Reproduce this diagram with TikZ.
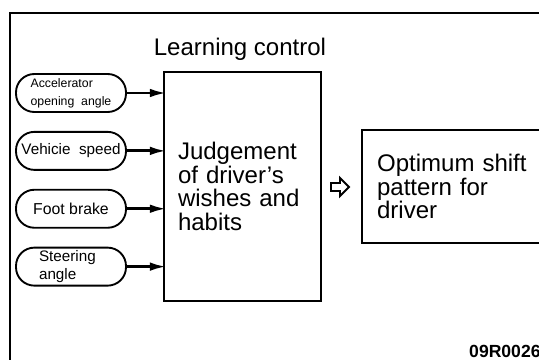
\documentclass[tikz,border=0pt]{standalone}
\usepackage{fontspec}
\setmainfont{Liberation Sans}
\usetikzlibrary{arrows.meta,positioning}

\begin{document}
\begin{tikzpicture}[x=0.3mm,y=-0.3mm,
  pill/.style={draw,line width=1.6pt,rounded corners=5.5mm,minimum width=33mm,minimum height=11.4mm,align=left,inner sep=1pt},
  box/.style={draw,line width=1.8pt,align=left,font=\fontsize{20.5}{20}\selectfont},
  feed/.style={line width=2.4pt,shorten >=-3pt,-{Latex[length=5mm,width=2.6mm]}}]
\useasboundingbox (0,0) rectangle (539,360);
\clip (0,0) rectangle (539,360);
\draw[line width=1.5pt] (10,400) -- (10,13) -- (580,13);
\node[box,minimum width=47.1mm,minimum height=68.7mm,text width=38.7mm] (judge) at (242.5,186.5) {Judgement\\of driver's\\wishes and\\habits};
\node[anchor=base,font=\fontsize{20.5}{20}\selectfont] (learn) at (240,55) {Learning control};
\node[box,right=11.7mm of judge,minimum width=60mm,minimum height=33.9mm,text width=51mm] (optimum) {Optimum shift\\pattern for\\driver};
\node[pill,font=\fontsize{10.5}{15.4}\selectfont] (accel) at (71,93) {Accelerator\\opening\ \ angle};
\node[pill,below=5.4mm of accel,font=\fontsize{13}{15.4}\selectfont] (speed) {Vehicie\ \ speed};
\node[pill,below=5.4mm of speed,font=\fontsize{13.5}{15.4}\selectfont] (brake) {Foot brake};
\node[pill,below=5.4mm of brake,font=\fontsize{13}{15.4}\selectfont] (steer) {Steering\\angle\hspace*{8mm}};
\foreach \n in {accel,speed,brake,steer}
  \draw[feed] (\n.east) -- (\n.east -| judge.west);
\draw[line width=1.7pt,line join=miter,shift={(340,187)}] (-9,-4) -- (0,-4) -- (0,-9) -- (9,0) -- (0,9) -- (0,4) -- (-9,4) -- cycle;
\node[anchor=base west,font=\fontsize{15}{15}\selectfont\bfseries,inner sep=0pt] (code) at (469,357) {09R0026};
\end{tikzpicture}
\end{document}
